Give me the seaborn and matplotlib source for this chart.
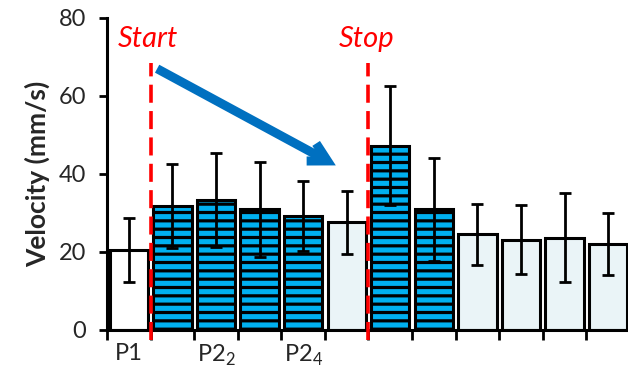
import numpy as np
import pandas as pd
import matplotlib
matplotlib.use('Agg')
import matplotlib.pyplot as plt
import seaborn as sns

# valores
cats = [str(i) for i in range(12)]
labels = ['P1', '', 'P2$_{\\mathrm{2}}$', '', 'P2$_{\\mathrm{4}}$', '', '', '', '', '', '', '']
means = [20.5, 31.8, 33.3, 30.9, 29.2, 27.6, 47.3, 30.9, 24.5, 23.2, 23.7, 22.0]
errs = [8.3, 10.7, 12.0, 12.3, 9.0, 8.0, 15.2, 13.3, 7.9, 8.9, 11.4, 8.0]
kind = ['pre', 'stim', 'stim', 'stim', 'stim', 'post', 'stim', 'stim', 'post', 'post', 'post', 'post']

colores = {'pre': '#FFFFFF', 'stim': '#00B0F0', 'post': '#EAF4F7'}

sns.set_theme(style='white')
plt.rcParams['font.family'] = ['Lato', 'DejaVu Sans']
plt.rcParams['mathtext.fontset'] = 'custom'
plt.rcParams['mathtext.rm'] = 'Lato'
plt.rcParams['hatch.linewidth'] = 2.3
plt.rcParams['hatch.color'] = 'black'

df = pd.DataFrame({'cat': cats, 'v': means, 'k': kind})

fig = plt.figure(figsize=(6.28, 3.75), dpi=100)
ax = fig.add_axes([107 / 628, 45 / 375, 523 / 628, 312 / 375])

pal = [colores[k] for k in kind]
sns.barplot(data=df, x='cat', y='v', hue='cat', palette=pal, order=cats,
            saturation=1, width=0.88, edgecolor='black', linewidth=2.2,
            legend=False, ax=ax)

xs = []
for p in ax.patches:
    c = p.get_x() + p.get_width() / 2
    i = int(round(c))
    xs.append(c)
    if kind[i] == 'stim':
        p.set_hatch('--')
xs = sorted(xs)

ax.errorbar(xs, means, yerr=errs, fmt='none', ecolor='black', elinewidth=2,
            capsize=4.5, capthick=2, zorder=5)

ax.set_xlim(-0.5, 11.5)
ax.set_ylim(0, 80)
ax.set_yticks([0, 20, 40, 60, 80])
ax.set_xticks(range(12))
ax.set_xticklabels(labels, fontsize=17)
ax.set_xticks(np.arange(-0.5, 12, 1), minor=True)
ax.tick_params(axis='x', which='major', length=0, pad=9)
ax.tick_params(axis='x', which='minor', length=7, width=2, color='black', direction='out', bottom=True)
ax.tick_params(axis='y', length=6, width=2, color='black', direction='out', left=True, labelsize=17, pad=9)
ax.set_ylabel('Velocity (mm/s)', fontsize=19, fontweight='bold', labelpad=6)
ax.set_xlabel('')
for s in ['top', 'right']:
    ax.spines[s].set_visible(False)
for s in ['left', 'bottom']:
    ax.spines[s].set_color('black')
    ax.spines[s].set_linewidth(2.2)

# lineas de inicio y fin
for xv in [0.5, 5.5]:
    ax.plot([xv, xv], [-2.6, 68.5], color='#FF0000', lw=2.6, dashes=(5, 2.3),
            clip_on=False, zorder=6)
ax.text(0.45, 74.6, 'Start', color='#FF0000', fontsize=21, style='italic',
        ha='center', va='center')
ax.text(5.45, 74.6, 'Stop', color='#FF0000', fontsize=21, style='italic',
        ha='center', va='center')

ax.annotate('', xy=(4.75, 42.2), xytext=(0.65, 67.0),
            arrowprops=dict(arrowstyle='->,head_length=1.1,head_width=0.6',
                            color='#0070C0', lw=6.5, shrinkA=0, shrinkB=0,
                            joinstyle='miter', capstyle='butt'))

fig.savefig('out.png', dpi=100)
